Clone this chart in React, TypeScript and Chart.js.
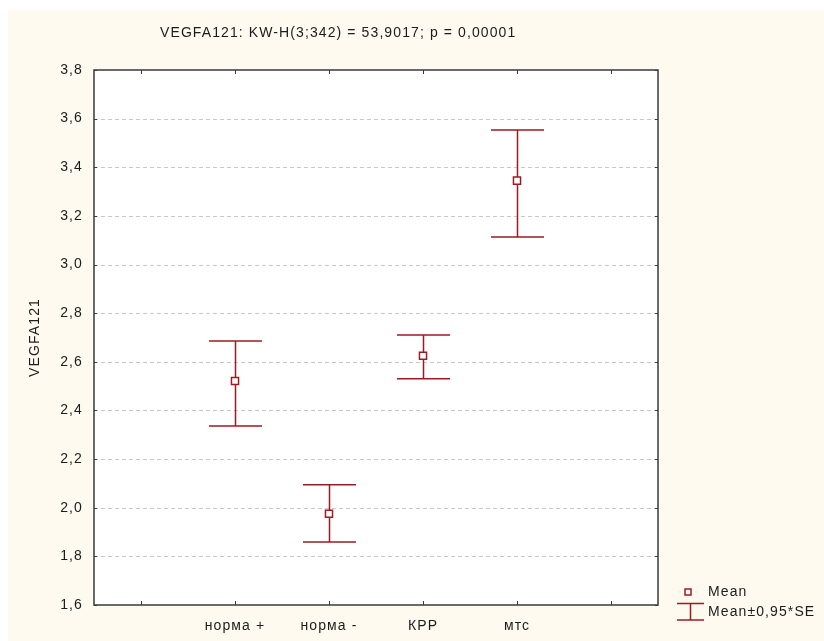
import React, { useEffect, useRef } from 'react';
import { Chart, registerables } from 'chart.js';

Chart.register(...registerables);

const categories = ['норма +', 'норма -', 'КРР', 'мтс'];
const means = [2.521, 1.975, 2.625, 3.345];
const lowers = [2.336, 1.859, 2.53, 3.113];
const uppers = [2.686, 2.094, 2.71, 3.553];
const yMin = 1.6;
const yMax = 3.8;
const yStep = 0.2;
const titleText = 'VEGFA121: KW-H(3;342) = 53,9017; p = 0,00001';
const yAxisTitle = 'VEGFA121';
const legendLabels = ['Mean', 'Mean±0,95*SE'];

const FONT = '"Liberation Sans", Arial, sans-serif';
const FS = 14;
const RED = '#9C1B22';
const CREAM = '#FFFAEF';
const INK = '#1c1c1c';
const SPACING = '1.1px';

const decor = {
  id: 'decor',
  beforeUpdate(chart: any) {
    chart.ctx.letterSpacing = SPACING;
  },
  beforeDraw(chart: any) {
    const { ctx, width, height, chartArea: a } = chart;
    ctx.letterSpacing = SPACING;
    ctx.save();
    ctx.fillStyle = '#ffffff';
    ctx.fillRect(0, 0, width, height);
    ctx.fillStyle = CREAM;
    ctx.fillRect(8, 10, width - 8, height - 10);
    ctx.fillStyle = '#ffffff';
    ctx.fillRect(a.left, a.top, a.right - a.left, a.bottom - a.top);
    const ys = chart.scales.y;
    ctx.strokeStyle = '#c8c8c8';
    ctx.lineWidth = 1;
    ctx.setLineDash([4, 3]);
    ys.ticks.forEach((t: any) => {
      if (t.value <= yMin + 1e-9 || t.value >= yMax - 1e-9) return;
      const y = Math.round(ys.getPixelForValue(t.value)) + 0.5;
      ctx.beginPath();
      ctx.moveTo(a.left, y);
      ctx.lineTo(a.right, y);
      ctx.stroke();
    });
    ctx.setLineDash([]);
    ctx.restore();
  },
  beforeDatasetsDraw(chart: any) {
    const { ctx } = chart;
    const xs = chart.scales.x;
    const ys = chart.scales.y;
    ctx.save();
    ctx.strokeStyle = RED;
    ctx.lineWidth = 1.5;
    categories.forEach((c, i) => {
      const x = Math.round(xs.getPixelForValue(i + 1)) + 0.5;
      const yl = ys.getPixelForValue(lowers[i]);
      const yu = ys.getPixelForValue(uppers[i]);
      const hw = 26.5;
      ctx.beginPath();
      ctx.moveTo(x, yl);
      ctx.lineTo(x, yu);
      ctx.moveTo(x - hw, yl);
      ctx.lineTo(x + hw, yl);
      ctx.moveTo(x - hw, yu);
      ctx.lineTo(x + hw, yu);
      ctx.stroke();
    });
    ctx.restore();
  },
  afterDraw(chart: any) {
    const { ctx, chartArea: a } = chart;
    const xs = chart.scales.x;
    const ys = chart.scales.y;
    ctx.save();
    ctx.strokeStyle = '#3a3a3a';
    ctx.lineWidth = 1.5;
    ctx.strokeRect(a.left, a.top, a.right - a.left, a.bottom - a.top);
    ctx.lineWidth = 1;
    ctx.beginPath();
    xs.ticks.forEach((t: any, i: number) => {
      const x = Math.round(xs.getPixelForTick(i)) + 0.5;
      ctx.moveTo(x, a.top);
      ctx.lineTo(x, a.top + 4);
      ctx.moveTo(x, a.bottom);
      ctx.lineTo(x, a.bottom - 4);
    });
    ys.ticks.forEach((t: any) => {
      const y = Math.round(ys.getPixelForValue(t.value)) + 0.5;
      ctx.moveTo(a.left, y);
      ctx.lineTo(a.left + 3, y);
      ctx.moveTo(a.right, y);
      ctx.lineTo(a.right - 3, y);
    });
    ctx.stroke();
    ctx.letterSpacing = SPACING;
    ctx.fillStyle = INK;
    ctx.font = `${FS}px ${FONT}`;
    ctx.textAlign = 'left';
    ctx.textBaseline = 'middle';
    ctx.fillText(titleText, 160, 33);
    ctx.strokeStyle = RED;
    ctx.lineWidth = 1.5;
    ctx.fillStyle = '#ffffff';
    ctx.fillRect(685, 589, 6, 6);
    ctx.strokeRect(685, 589, 6, 6);
    ctx.fillStyle = INK;
    ctx.fillText(legendLabels[0], 708, 592);
    ctx.beginPath();
    ctx.moveTo(677, 603.5);
    ctx.lineTo(704, 603.5);
    ctx.moveTo(677, 620);
    ctx.lineTo(704, 620);
    ctx.moveTo(690.5, 603.5);
    ctx.lineTo(690.5, 620);
    ctx.stroke();
    ctx.fillText(legendLabels[1], 708, 612);
    ctx.restore();
  },
};

export default function App() {
  const ref = useRef<HTMLCanvasElement | null>(null);
  useEffect(() => {
    if (!ref.current) return;
    const c2d: any = ref.current.getContext('2d');
    if (c2d) c2d.letterSpacing = SPACING;
    const labels = ['', ...categories, ''];
    const chart = new Chart(ref.current, {
      type: 'line',
      data: {
        labels,
        datasets: [
          {
            label: legendLabels[0],
            data: [null, ...means, null],
            showLine: false,
            pointStyle: 'rect',
            pointRadius: 5,
            pointHoverRadius: 5,
            borderColor: RED,
            backgroundColor: '#ffffff',
            pointBorderWidth: 1.5,
            borderWidth: 1.5,
          },
        ],
      },
      options: {
        responsive: false,
        animation: false,
        devicePixelRatio: 1,
        layout: { padding: { top: 70, right: 166, left: 0, bottom: 0 } },
        plugins: {
          legend: { display: false },
          title: { display: false },
          tooltip: { enabled: false },
        },
        scales: {
          x: {
            type: 'category',
            offset: true,
            grid: { display: false, drawTicks: false },
            border: { display: false },
            ticks: {
              color: INK,
              font: { family: FONT, size: FS },
              padding: 13,
              maxRotation: 0,
              autoSkip: false,
            },
            afterFit: (s: any) => {
              s.height = 36;
            },
          },
          y: {
            min: yMin,
            max: yMax,
            grid: { display: false, drawTicks: false },
            border: { display: false },
            ticks: {
              stepSize: yStep,
              color: INK,
              font: { family: FONT, size: FS },
              padding: 11,
              callback: (v: any) => Number(v).toFixed(1).replace('.', ','),
            },
            title: {
              display: true,
              text: yAxisTitle,
              color: INK,
              font: { family: FONT, size: FS },
              padding: { top: 27, bottom: 0 },
            },
            afterFit: (s: any) => {
              s.width = 94;
            },
          },
        },
      },
      plugins: [decor],
    });
    return () => chart.destroy();
  }, []);
  return (
    <div style={{ position: 'absolute', left: 0, top: 0, width: 824, height: 641 }}>
      <canvas ref={ref} width={824} height={641} style={{ width: 824, height: 641, display: 'block' }} />
    </div>
  );
}
